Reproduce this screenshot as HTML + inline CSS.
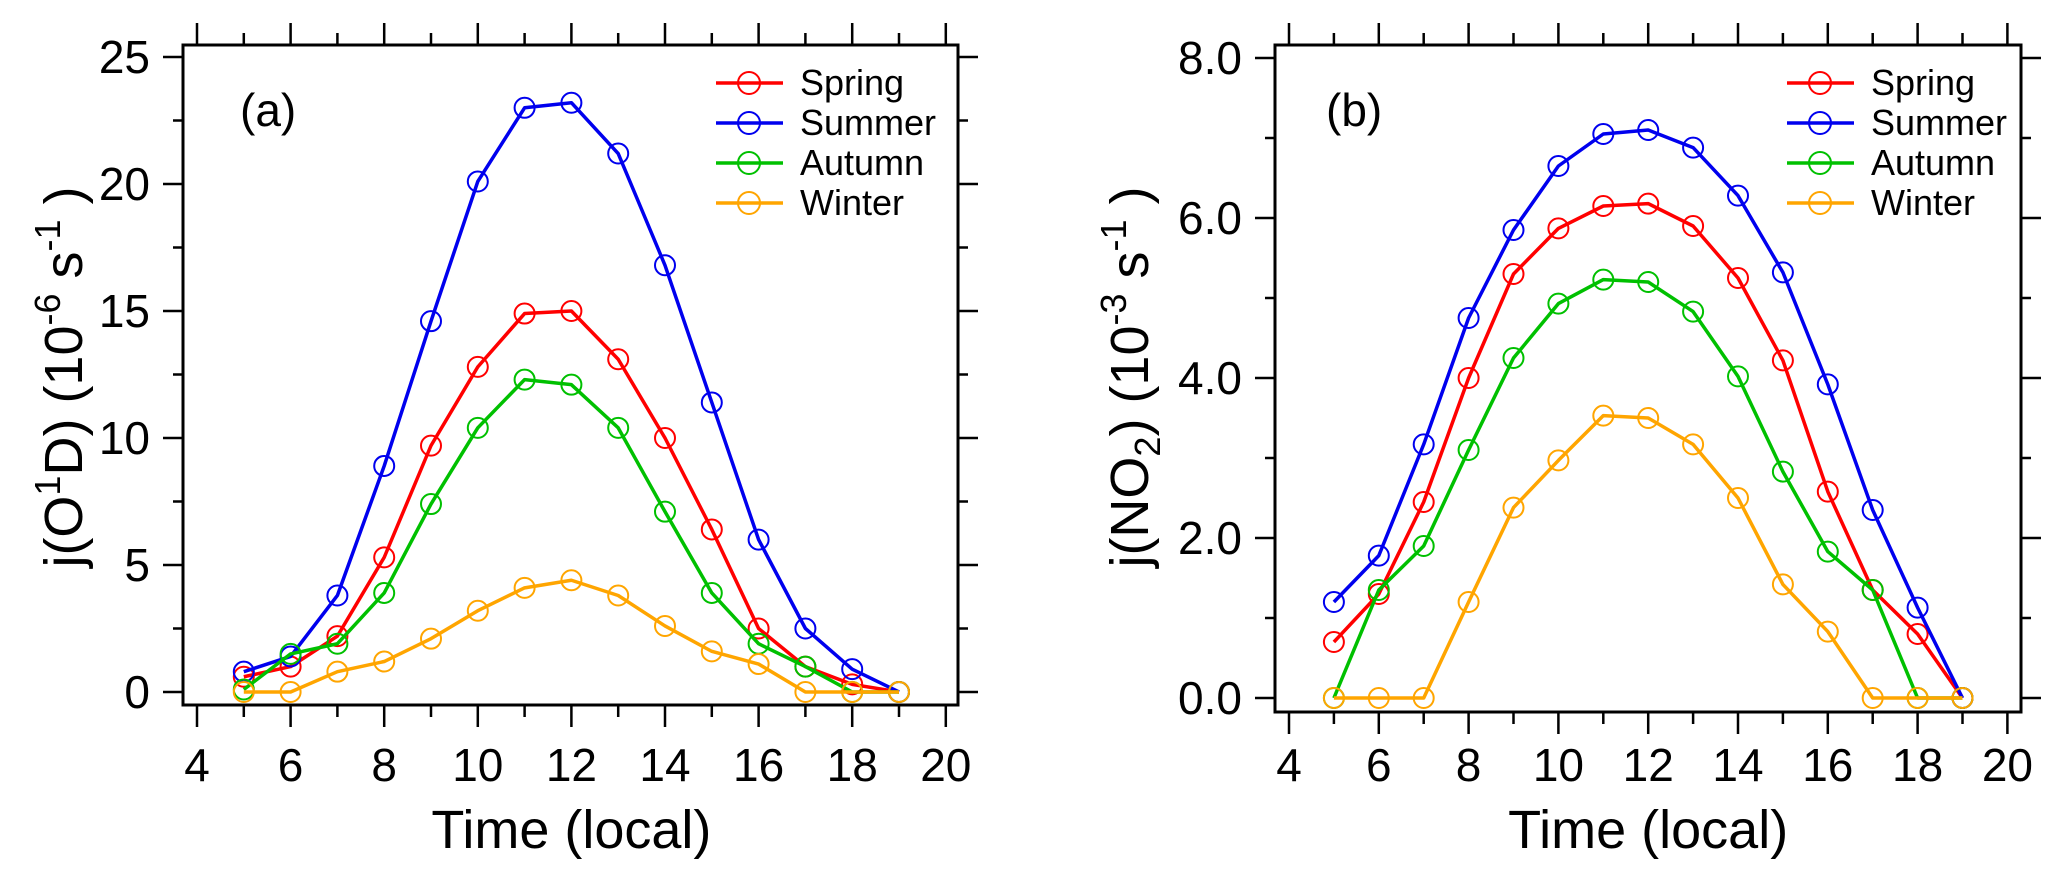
<!DOCTYPE html>
<html><head><meta charset="utf-8"><style>
html,body{margin:0;padding:0;background:#fff;}
svg{display:block;font-family:"Liberation Sans",Arial,sans-serif;}
</style></head><body>
<svg id="chart" width="2067" height="883" viewBox="0 0 2067 883" xmlns="http://www.w3.org/2000/svg"></svg>
<script>
const hours = [5,6,7,8,9,10,11,12,13,14,15,16,17,18,19];
const seasons = ["Spring","Summer","Autumn","Winter"];
const seasonColors = ["#ff0000","#0000ee","#00c000","#ffa500"];
const o1dSpring = [0.6,1.0,2.2,5.3,9.7,12.8,14.9,15.0,13.1,10.0,6.4,2.5,1.0,0.3,0];
const o1dSummer = [0.8,1.4,3.8,8.9,14.6,20.1,23.0,23.2,21.2,16.8,11.4,6.0,2.5,0.9,0];
const o1dAutumn = [0.1,1.5,1.9,3.9,7.4,10.4,12.3,12.1,10.4,7.1,3.9,1.9,1.0,0,0];
const o1dWinter = [0,0,0.8,1.2,2.1,3.2,4.1,4.4,3.8,2.6,1.6,1.1,0,0,0];
const no2Spring = [0.7,1.3,2.45,4.0,5.3,5.87,6.15,6.18,5.9,5.25,4.22,2.58,1.35,0.8,0];
const no2Summer = [1.2,1.78,3.17,4.75,5.85,6.65,7.05,7.1,6.88,6.28,5.32,3.92,2.35,1.13,0];
const no2Autumn = [0,1.35,1.9,3.1,4.25,4.93,5.23,5.2,4.83,4.02,2.83,1.83,1.35,0,0];
const no2Winter = [0,0,0,1.2,2.38,2.97,3.53,3.5,3.17,2.5,1.42,0.83,0,0,0];
const xTickLabels = ["4","6","8","10","12","14","16","18","20"];
const yTicksA = ["0","5","10","15","20","25"];
const yTicksB = ["0.0","2.0","4.0","6.0","8.0"];

const NS="http://www.w3.org/2000/svg";
const svg=document.getElementById('chart');
function mk(tag,attrs,parent){const e=document.createElementNS(NS,tag);for(const k in attrs)e.setAttribute(k,attrs[k]);(parent||svg).appendChild(e);return e;}

function panel(cfg){
  const g=mk('g',{});
  
  
  const X=v=>cfg.x0+(v-4)*cfg.xs;
  const Y=v=>cfg.y0-v*cfg.ys;
  const L=cfg.left,R=cfg.right,T=45,B=cfg.bottom;
  const frame=mk('rect',{x:L,y:T,width:R-L,height:B-T,fill:'none',stroke:'#000','stroke-width':3},g);
  
  
  for(let h=4;h<=20;h++){
    const major=h%2===0, len=major?22:12, x=X(h);
    mk('line',{x1:x,x2:x,y1:B,y2:B+len,stroke:'#000','stroke-width':2.5},g);
    mk('line',{x1:x,x2:x,y1:T,y2:T-len,stroke:'#000','stroke-width':2.5},g);
  }
  xTickLabels.forEach((lab,i)=>{
    const t=mk('text',{x:X(4+2*i),y:781,'font-size':46,'text-anchor':'middle'},g);
    t.textContent=lab;
    
    
  });
  for(let k=0;k<=cfg.nMinor;k++){
    const v=k*cfg.minorStep, major=k%2===0, len=major?20:10, y=Y(v);
    mk('line',{x1:L,x2:L-len,y1:y,y2:y,stroke:'#000','stroke-width':2.5},g);
    mk('line',{x1:R,x2:R+len,y1:y,y2:y,stroke:'#000','stroke-width':2.5},g);
  }
  cfg.yLabels.forEach((lab,i)=>{
    const t=mk('text',{x:L-33,y:Y(parseFloat(lab))+16,'font-size':46,'text-anchor':'end'},g);
    t.textContent=lab;
    
    
  });
  const xt=mk('text',{x:(X(4)+X(20))/2,y:848,'font-size':54,'text-anchor':'middle'},g);
  xt.textContent='Time (local)';
  
  
  const yt=mk('text',{x:0,y:0,'font-size':54,'text-anchor':'middle',transform:`translate(${cfg.ytx},377) rotate(-90)`},g);
  yt.innerHTML=cfg.ytitle;
  
  
  const pl=mk('text',{x:cfg.px,y:126,'font-size':46},g);
  pl.textContent=cfg.plabel;
  
  
  cfg.series.forEach((vals,si)=>{
    const col=seasonColors[si];
    const sg=mk('g',{},g);
    
    
    const pts=hours.map((h,i)=>X(h)+','+Y(vals[i])).join(' ');
    mk('polyline',{points:pts,fill:'none',stroke:col,'stroke-width':3.5,'stroke-linejoin':'round'},sg);
    hours.forEach((h,i)=>{
      const c=mk('circle',{cx:X(h),cy:Y(vals[i]),r:10,fill:'none',stroke:col,'stroke-width':2},sg);
      
      
    });
  });
  const lg=mk('g',{},g);
  
  
  seasons.forEach((s,i)=>{
    const y=83+i*40, lx=cfg.legX;
    const e=mk('g',{},lg);
    
    
    mk('line',{x1:lx,x2:lx+67,y1:y,y2:y,stroke:seasonColors[i],'stroke-width':3.5},e);
    mk('circle',{cx:lx+33,cy:y,r:11,fill:'none',stroke:seasonColors[i],'stroke-width':2},e);
    const t=mk('text',{x:lx+84,y:y+12,'font-size':36},e);
    t.textContent=s;
  });
}

panel({name:'panel-a',x0:197,xs:46.8,y0:692,ys:25.4,left:183,right:958,bottom:705,
  nMinor:10,minorStep:2.5,yLabels:yTicksA,ytx:82,
  ytitle:'j(O<tspan dy="-22" font-size="36">1</tspan><tspan dy="22">D) (10</tspan><tspan dy="-22" font-size="36">-6</tspan><tspan dy="22"> s</tspan><tspan dy="-22" font-size="36">-1</tspan><tspan dy="22"> )</tspan>',
  px:240,plabel:'(a)',legX:716,
  series:[o1dSpring,o1dSummer,o1dAutumn,o1dWinter]});
panel({name:'panel-b',x0:1289,xs:44.9,y0:698,ys:80,left:1275,right:2021,bottom:712,
  nMinor:8,minorStep:1,yLabels:yTicksB,ytx:1148,
  ytitle:'j(NO<tspan dy="12" font-size="36">2</tspan><tspan dy="-12">) (10</tspan><tspan dy="-22" font-size="36">-3</tspan><tspan dy="22"> s</tspan><tspan dy="-22" font-size="36">-1</tspan><tspan dy="22"> )</tspan>',
  px:1326,plabel:'(b)',legX:1787,
  series:[no2Spring,no2Summer,no2Autumn,no2Winter]});
</script>
</body></html>
